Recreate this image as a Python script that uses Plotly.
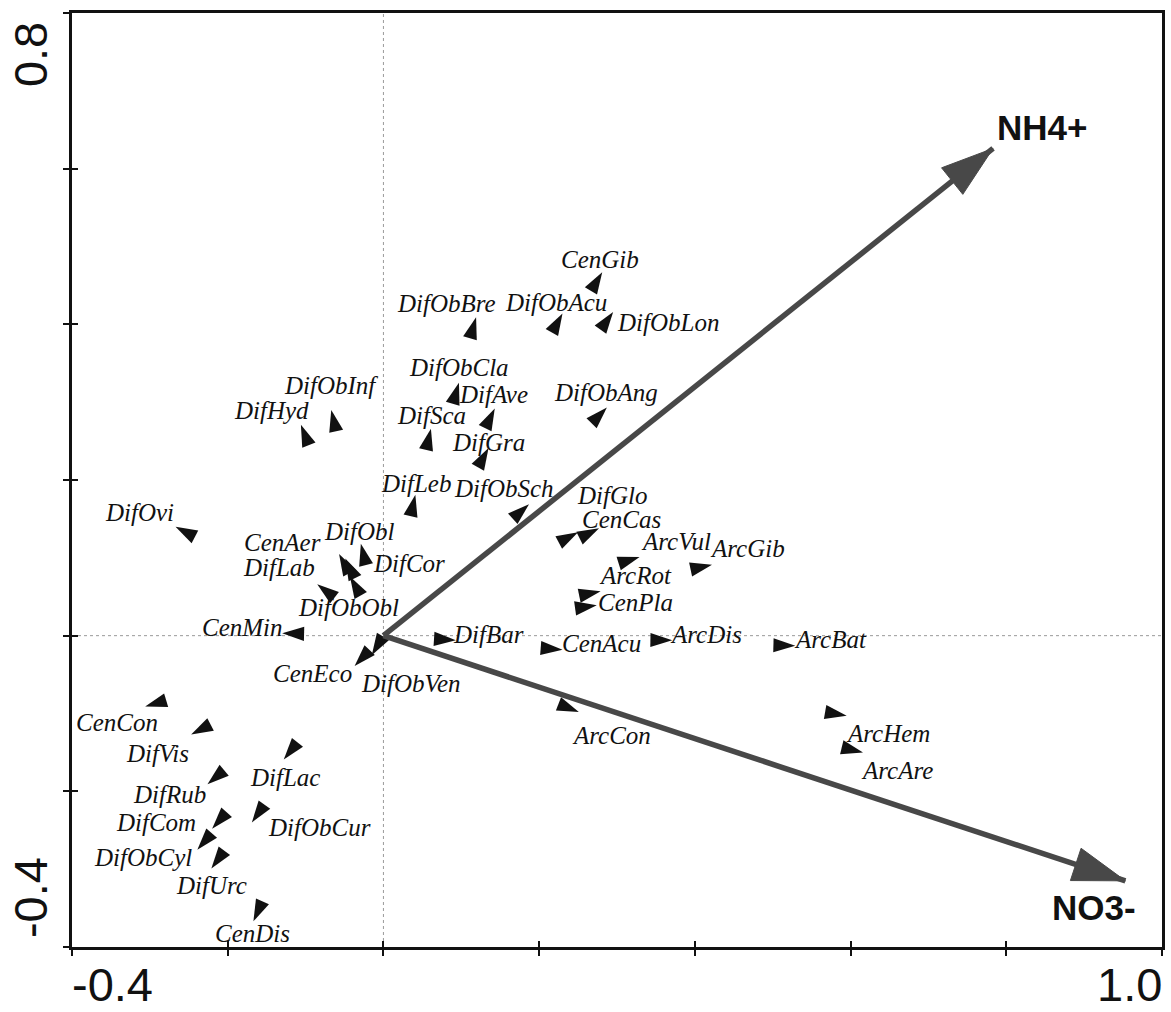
import numpy as np
import plotly.graph_objects as go

# Species scores on the first two ordination axes
species = [
    "CenGib", "DifObBre", "DifObAcu", "DifObLon", "DifObCla", "DifAve", "DifSca",
    "DifGra", "DifObAng", "DifObInf", "DifHyd", "DifLeb", "DifObSch", "DifGlo",
    "CenCas", "ArcVul", "ArcGib", "ArcRot", "CenPla", "CenAcu", "ArcDis", "ArcBat",
    "ArcCon", "ArcHem", "ArcAre", "DifBar", "DifOvi", "DifCor", "CenAer", "DifObl",
    "DifObObl", "DifLab", "CenMin", "CenEco", "DifObVen", "CenCon", "DifVis",
    "DifLac", "DifRub", "DifCom", "DifObCur", "DifObCyl", "DifUrc", "CenDis",
]
axis1 = [
    0.281, 0.119, 0.230, 0.295, 0.097, 0.143, 0.061,
    0.135, 0.287, -0.067, -0.106, 0.041, 0.187, 0.250,
    0.277, 0.329, 0.422, 0.279, 0.274, 0.230, 0.371, 0.529,
    0.251, 0.595, 0.616, 0.093, -0.267, -0.029, -0.057, -0.049,
    -0.043, -0.085, -0.130, -0.037, -0.015, -0.306, -0.247,
    -0.128, -0.226, -0.220, -0.169, -0.239, -0.221, -0.167,
]
axis2 = [
    0.467, 0.409, 0.414, 0.416, 0.325, 0.292, 0.266,
    0.241, 0.293, 0.290, 0.271, 0.181, 0.169, 0.133,
    0.138, 0.101, 0.091, 0.057, 0.039, -0.018, -0.006, -0.013,
    -0.098, -0.103, -0.150, -0.006, 0.140, 0.118, 0.105, 0.099,
    0.076, 0.066, 0.003, -0.039, -0.025, -0.091, -0.127,
    -0.159, -0.191, -0.248, -0.240, -0.275, -0.299, -0.367,
]

# Environmental variable biplot scores
env_names = ["NH4+", "NO3-"]
env_axis1 = [0.783, 0.953]
env_axis2 = [0.626, -0.315]

# Axis ticks and end labels
tick_values = [-0.4, -0.2, 0.0, 0.2, 0.4, 0.6, 0.8, 1.0]
x_range = [-0.4, 1.0]
y_range = [-0.4, 0.8]
x_end_labels = ["-0.4", "1.0"]
y_end_labels = ["-0.4", "0.8"]

# Species label placement (pixel offsets from each arrow tip, +dy = down)
label_dx = [
    -2, -30, -7, 55, 0, -1, 1,
    0, -1, 0, -29, 1, -25, 34,
    22, 36, 36, 35, 39, 39, 34, 35,
    33, 41, 34, 33, -36, 48, -57, 14,
    -1, -38, -40, -42, 39, -28, -34,
    1, -38, -56, 68, -54, 0, -1,
]
label_dy = [
    -13, -14, -11, 11, -15, -14, -13,
    -6, -15, -24, -14, -11, -16, -37,
    -9, -16, -16, -16, -3, -6, -6, -6,
    24, 18, 18, -6, -14, 20, -11, -27,
    31, -17, -6, 7, 28, 16, 19,
    18, 10, -6, 5, 8, 17, 12,
]
env_label_dx = [49, -31]
env_label_dy = [-21, 27]

W, H = 1171, 1012
M_L, M_R, M_T, M_B = 72, 6, 13, 65

INK = "#111111"
ARROW = "#484848"

fig = go.Figure()

# Species: arrowheads pointing away from the origin
sx = np.array(axis1)
sy = np.array(axis2)
heading = 90 - np.degrees(np.arctan2(sy, sx))
fig.add_trace(go.Scatter(
    x=sx, y=sy, mode="markers",
    marker=dict(symbol="arrow", size=23, color=INK, angle=heading, opacity=1,
                line=dict(width=0)),
    hoverinfo="text", text=species, showlegend=False,
))

# Environmental arrows from the origin: shaft plus filled head
for name, ex, ey in zip(env_names, env_axis1, env_axis2):
    fig.add_trace(go.Scatter(
        x=[0, ex], y=[0, ey], mode="lines",
        line=dict(color=ARROW, width=5.5),
        hoverinfo="skip", showlegend=False,
    ))
    fig.add_trace(go.Scatter(
        x=[ex], y=[ey], mode="markers",
        marker=dict(symbol="arrow", size=55, color=ARROW, opacity=1,
                    angle=90 - np.degrees(np.arctan2(ey, ex)),
                    line=dict(width=1, color=ARROW)),
        hoverinfo="text", text=[name], showlegend=False,
    ))

# Companion axes carrying the inward half of each tick
fig.add_trace(go.Scatter(x=[None], y=[None], xaxis="x2", yaxis="y2",
                         showlegend=False, hoverinfo="skip"))

annotations = []
for name, ex, ey, dx, dy in zip(species, axis1, axis2, label_dx, label_dy):
    annotations.append(dict(
        x=ex, y=ey, text=name, showarrow=False, xanchor="center", yanchor="middle",
        xshift=dx, yshift=-dy,
        font=dict(family="Liberation Serif", size=25, style="italic", color=INK),
    ))
for name, ex, ey, dx, dy in zip(env_names, env_axis1, env_axis2, env_label_dx, env_label_dy):
    annotations.append(dict(
        x=ex, y=ey, text=name, showarrow=False, xanchor="center", yanchor="middle",
        xshift=dx, yshift=-dy,
        font=dict(family="Liberation Sans", size=35, weight="bold", color=INK),
    ))

tick_font = dict(family="Liberation Sans", size=47, color=INK)
annotations.append(dict(x=x_range[0], y=0, xref="x", yref="paper", text=x_end_labels[0],
                        showarrow=False, xanchor="left", yanchor="middle",
                        xshift=-2, yshift=-37, font=tick_font))
annotations.append(dict(x=x_range[1], y=0, xref="x", yref="paper", text=x_end_labels[1],
                        showarrow=False, xanchor="right", yanchor="middle",
                        xshift=2, yshift=-37, font=tick_font))
y_lab_x = (30 - M_L) / (W - M_L - M_R)
annotations.append(dict(x=y_lab_x, y=y_range[0], xref="paper", yref="y", text=y_end_labels[0],
                        showarrow=False, xanchor="center", yanchor="middle", textangle=-90,
                        yshift=49, font=tick_font))
annotations.append(dict(x=y_lab_x, y=y_range[1], xref="paper", yref="y", text=y_end_labels[1],
                        showarrow=False, xanchor="center", yanchor="middle", textangle=-90,
                        yshift=-42, font=tick_font))

# Dotted reference lines through the origin
shapes = [
    dict(type="line", xref="x", yref="y", x0=0, x1=0, y0=y_range[0], y1=y_range[1],
         line=dict(color="#9a9a9a", width=1, dash="dot"), layer="below"),
    dict(type="line", xref="x", yref="y", x0=x_range[0], x1=x_range[1], y0=0, y1=0,
         line=dict(color="#9a9a9a", width=1, dash="dot"), layer="below"),
]

axis_common = dict(showgrid=False, zeroline=False, tickvals=tick_values,
                   showticklabels=False, tickcolor=INK, tickwidth=2, ticklen=6)

fig.update_layout(
    width=W, height=H,
    margin=dict(l=M_L, r=M_R, t=M_T, b=M_B, pad=0),
    paper_bgcolor="white", plot_bgcolor="white",
    xaxis=dict(range=x_range, ticks="outside", showline=True, linewidth=2.8,
               linecolor=INK, mirror=True, **axis_common),
    yaxis=dict(range=y_range, ticks="outside", showline=True, linewidth=2.8,
               linecolor=INK, mirror=True, **axis_common),
    xaxis2=dict(range=x_range, overlaying="x", anchor="y2", side="bottom",
                ticks="inside", showline=False, **axis_common),
    yaxis2=dict(range=y_range, overlaying="y", anchor="x2", side="left",
                ticks="inside", showline=False, **axis_common),
    annotations=annotations,
    shapes=shapes,
    showlegend=False,
)

fig.write_html("out.html")
